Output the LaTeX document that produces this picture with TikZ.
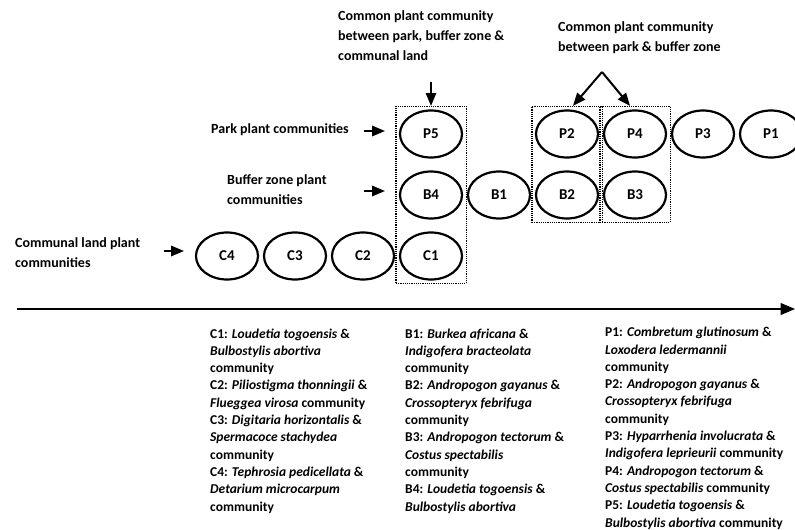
\documentclass[tikz,border=0pt]{standalone}
\usepackage{fontspec}
\setmainfont{Carlito}[BoldFont={Carlito Bold},ItalicFont={Carlito Italic},BoldItalicFont={Carlito Bold Italic}]
\usetikzlibrary{arrows,shapes.geometric,fit}

\begin{document}
\begin{tikzpicture}[x=1pt,y=-1pt,>=triangle 45,node distance=68pt,
    comm node/.style={ellipse, draw, line width=2.2pt, minimum width=62pt,
      minimum height=47pt, inner sep=0pt, font=\bfseries\fontsize{15}{17}\selectfont},
    group box/.style={draw, densely dotted, line width=1.2pt, inner sep=3pt},
    side label/.style={anchor=base west, align=left, inner sep=0pt,
      font=\bfseries\fontsize{14}{20}\selectfont},
    key text/.style={anchor=base west, align=left, inner sep=0pt,
      font=\bfseries\fontsize{13.5}{17.3}\selectfont},
    point/.style={->, line width=2pt}]

  \useasboundingbox (0,0) rectangle (795,530);

  %Communities%
  \node[comm node] (P5) at (431,134) {P5};
  \node[comm node] (B4) [below of=P5, node distance=61pt] {B4};
  \node[comm node] (C1) [below of=B4, node distance=61pt] {C1};
  \node[comm node] (C2) [left of=C1] {C2};
  \node[comm node] (C3) [left of=C2] {C3};
  \node[comm node] (C4) [left of=C3] {C4};
  \node[comm node] (B1) [right of=B4] {B1};
  \node[comm node] (B2) [right of=B1] {B2};
  \node[comm node] (B3) [right of=B2] {B3};
  \node[comm node] (P2) [above of=B2, node distance=61pt] {P2};
  \node[comm node] (P4) [right of=P2] {P4};
  \node[comm node] (P3) [right of=P4] {P3};
  \node[comm node] (P1) [right of=P3] {P1};

  %Common groups%
  \node[group box, fit=(P5)(C1)] (box1) {};
  \node[group box, fit=(P2)(B2)] (box2) {};
  \node[group box, fit=(P4)(B3)] (box3) {};

  %Labels (anchored on the last line)%
  \node[side label] (toplbl) at (338,60) {Common plant community\\between park, buffer zone \&\\communal land};
  \node[side label] (pblbl) at (558,51) {Common plant community\\between park \& buffer zone};
  \node[side label] (parklbl) at (211,133) {Park plant communities};
  \node[side label] (bufferlbl) at (227,204) {Buffer zone plant\\communities};
  \node[side label] (communallbl) at (15,267) {Communal land plant\\communities};

  \coordinate (toptail) at (431,82);
  \coordinate (apex) at (602,72);
  \draw[point] (toptail) -- (box1.north);
  \draw[point] (apex) -- ([xshift=6pt]box2.north);
  \draw[point] (apex) -- ([xshift=-5pt]box3.north);
  \draw[point] ([xshift=-35pt,yshift=3pt]P5.west) -- ([xshift=-14pt,yshift=3pt]P5.west);
  \draw[point] ([xshift=-35pt,yshift=4pt]B4.west) -- ([xshift=-14pt,yshift=4pt]B4.west);
  \draw[point] ([xshift=-31pt,yshift=5pt]C4.west) -- ([xshift=-11pt,yshift=5pt]C4.west);

  %Axis%
  \coordinate (axisstart) at (17,309);
  \coordinate (axisend) at (795,309);
  \draw[point, line width=2.4pt] (axisstart) -- (axisend);

  %Keys%
  \node[key text] (ckey) at (210,511) {C1: \textit{Loudetia togoensis} \&\\\textit{Bulbostylis abortiva}\\community\\C2: \textit{Piliostigma thonningii} \&\\\textit{Flueggea virosa} community\\C3: \textit{Digitaria horizontalis} \&\\\textit{Spermacoce stachydea}\\community\\C4: \textit{Tephrosia pedicellata} \&\\\textit{Detarium microcarpum}\\community};
  \node[key text] (bkey) at (405,511) {B1: \textit{Burkea africana} \&\\\textit{Indigofera bracteolata}\\community\\B2: \textit{Andropogon gayanus} \&\\\textit{Crossopteryx febrifuga}\\community\\B3: \textit{Andropogon tectorum} \&\\\textit{Costus spectabilis}\\community\\B4: \textit{Loudetia togoensis} \&\\\textit{Bulbostylis abortiva}};
  \node[key text] (pkey) at (605,527) {P1: \textit{Combretum glutinosum} \&\\\textit{Loxodera ledermannii}\\community\\P2: \textit{Andropogon gayanus} \&\\\textit{Crossopteryx febrifuga}\\community\\P3: \textit{Hyparrhenia involucrata} \&\\\textit{Indigofera leprieurii} community\\P4: \textit{Andropogon tectorum} \&\\\textit{Costus spectabilis} community\\P5: \textit{Loudetia togoensis} \&\\\textit{Bulbostylis abortiva} community};
\end{tikzpicture}
\end{document}
